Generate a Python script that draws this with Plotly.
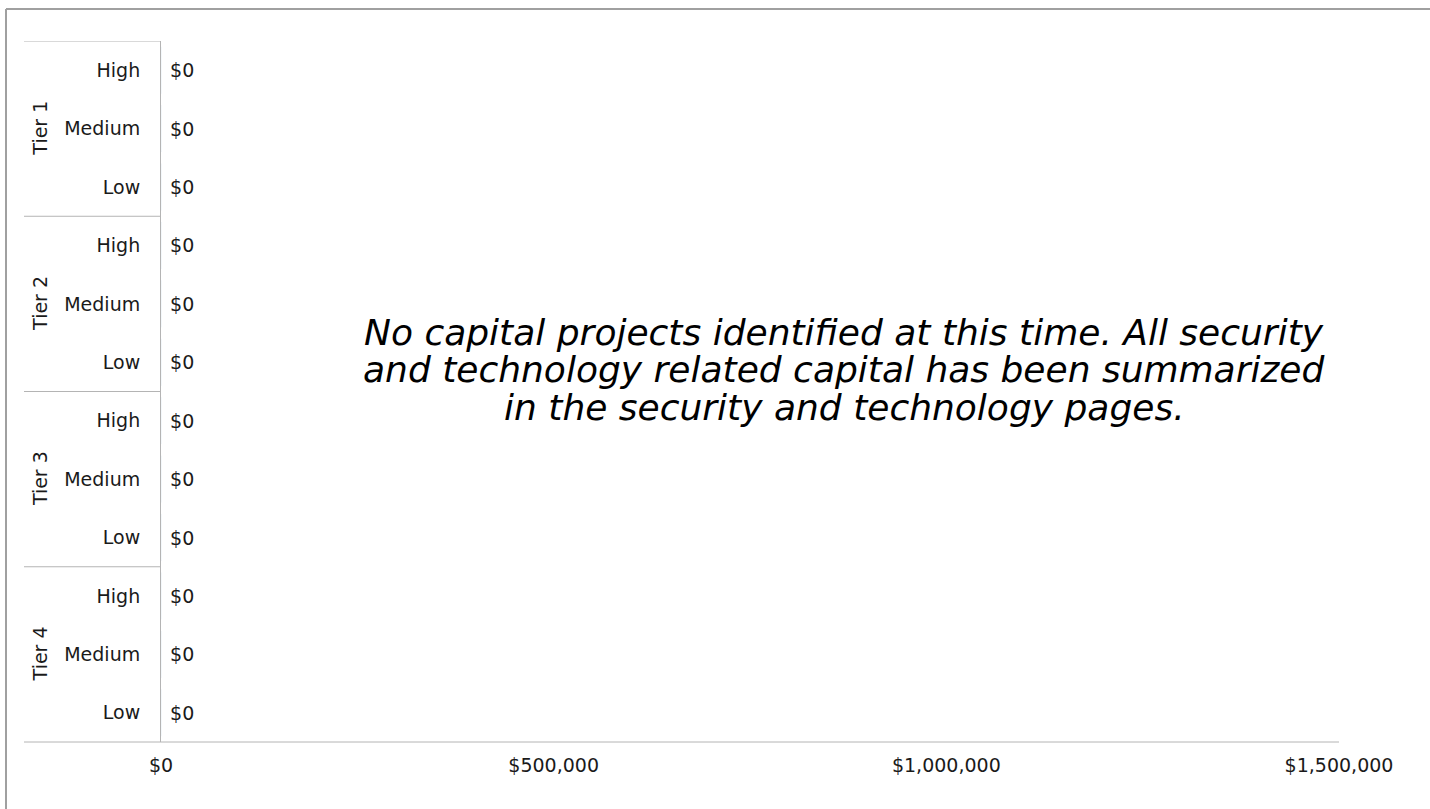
import plotly.graph_objects as go

# Capital request totals by tier and priority
tiers = ["Tier 1", "Tier 2", "Tier 3", "Tier 4"]
priorities = ["High", "Medium", "Low"]
amounts = [0, 0, 0, 0, 0, 0, 0, 0, 0, 0, 0, 0]
x_ticks = [0, 500000, 1000000, 1500000]
x_tick_labels = ["$0", "$500,000", "$1,000,000", "$1,500,000"]
note_lines = [
    "No capital projects identified at this time. All security",
    "and technology related capital has been summarized",
    "in the security and technology pages.",
]

FONT = "DejaVu Sans"
INK = "#1a1a1a"
RULE = "#b4b4b4"

W, H = 1430, 809
L, R, T, B = 161, 91, 41, 67
pw, ph = W - L - R, H - T - B


def px_x(p):
    return (p - L) / pw


def px_y(p):
    return (H - B - p) / ph


rows = list(range(len(tiers) * len(priorities)))
row_labels = [p for _ in tiers for p in priorities]

fig = go.Figure()
fig.add_trace(go.Bar(
    x=amounts,
    y=rows,
    orientation="h",
    marker_color="#4472c4",
    text=["\u00a0$" + f"{v:,.0f}" for v in amounts],
    textposition="outside",
    textfont=dict(family=FONT, size=19, color=INK),
    cliponaxis=False,
    hoverinfo="skip",
))

shapes = []
# x axis base line, extended under the category labels
shapes.append(dict(type="line", xref="paper", yref="paper",
                   x0=px_x(24), x1=1, y0=0, y1=0,
                   line=dict(color=RULE, width=1)))
# tier separators in the label column
for b in [-0.5, 2.5, 5.5, 8.5]:
    shapes.append(dict(type="line", xref="paper", yref="y",
                       x0=px_x(24), x1=0, y0=b, y1=b,
                       line=dict(color=RULE, width=1)))
# page frame
shapes.append(dict(type="line", xref="paper", yref="paper",
                   x0=px_x(6), x1=px_x(W + 20), y0=px_y(9), y1=px_y(9),
                   line=dict(color="#a0a0a0", width=2)))
shapes.append(dict(type="line", xref="paper", yref="paper",
                   x0=px_x(6), x1=px_x(6), y0=px_y(9), y1=px_y(H + 20),
                   line=dict(color="#a0a0a0", width=2)))

annotations = []
for i, t in enumerate(tiers):
    annotations.append(dict(
        text=t, xref="paper", yref="y", x=px_x(40), y=i * 3 + 1,
        textangle=-90, showarrow=False, xanchor="center", yanchor="middle",
        font=dict(family=FONT, size=19, color=INK),
    ))
for line, yc in zip(note_lines, [332, 369, 407]):
    annotations.append(dict(
        text=line, xref="paper", yref="paper", x=px_x(844), y=px_y(yc),
        showarrow=False, xanchor="center", yanchor="middle",
        font=dict(family=FONT, size=36, color="#000000", style="italic"),
    ))

fig.update_layout(
    width=W, height=H,
    margin=dict(l=L, r=R, t=T, b=B),
    paper_bgcolor="white", plot_bgcolor="white",
    showlegend=False,
    shapes=shapes,
    annotations=annotations,
    xaxis=dict(
        range=[0, 1500000], tickvals=x_ticks, ticktext=x_tick_labels,
        showgrid=False, zeroline=False, showline=False, ticks="",
        ticklabelstandoff=10,
        tickfont=dict(family=FONT, size=19, color=INK),
        fixedrange=True,
    ),
    yaxis=dict(
        range=[11.5, -0.5], tickvals=rows, ticktext=row_labels,
        showgrid=False, zeroline=False, showline=True,
        linecolor=RULE, linewidth=1, ticks="",
        ticklabelstandoff=16,
        tickfont=dict(family=FONT, size=19, color=INK),
        fixedrange=True,
    ),
)

fig.write_html("out.html")
